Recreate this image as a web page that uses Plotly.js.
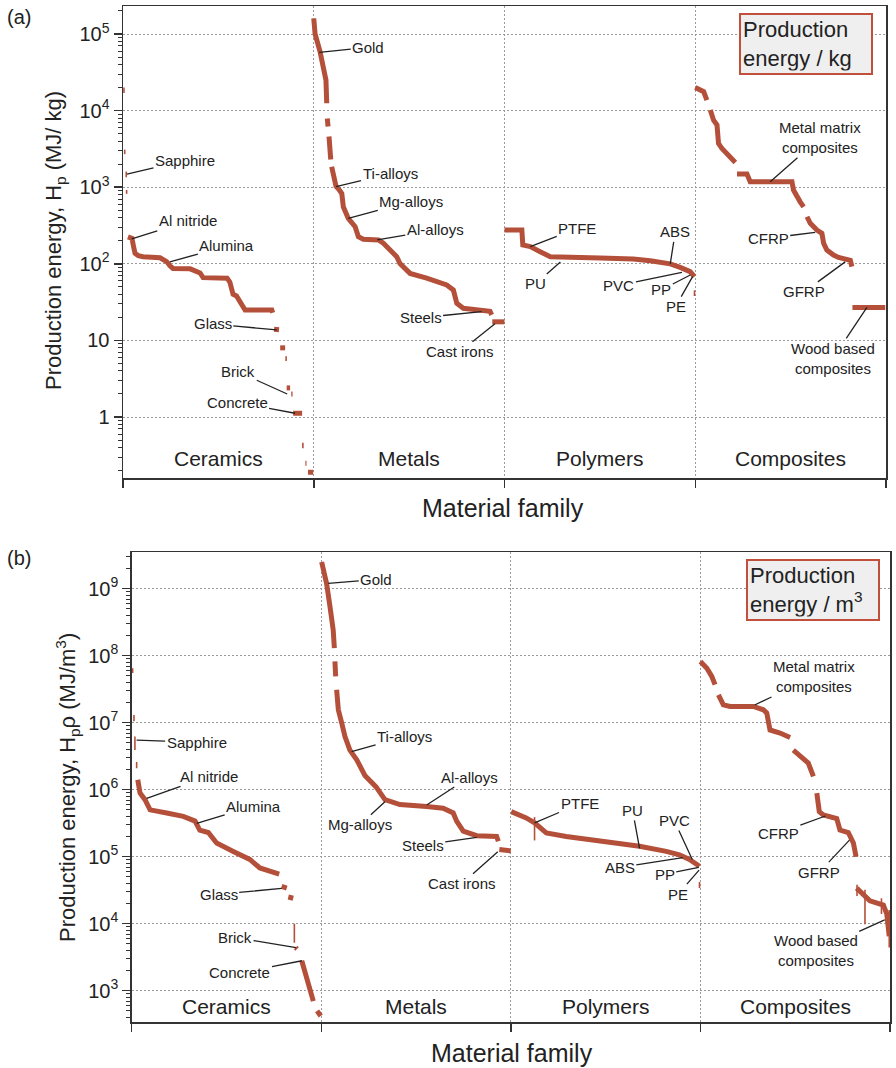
<!DOCTYPE html>
<html><head><meta charset="utf-8">
<script src="https://cdn.plot.ly/plotly-3.0.1.min.js"></script>
<style>html,body{margin:0;padding:0;background:#fff}#chart{width:896px;height:1068px}</style>
</head><body><div id="chart"></div>
<script>
// ---------------- DATA ----------------
const families = ['Ceramics', 'Metals', 'Polymers', 'Composites'];

// Panel (a): production energy per kg (MJ/kg); rank = position of material within its family (0-100)
const ceramicsRankA = [2.6, 4.7, 5.5, 6.3, 8, 10.5, 19.4, 21, 22.9, 24.5, 26.2, 35.2, 38, 40.4, 42, 54.6, 56, 57.7, 59.5, 61.4, 63, 64, 78, 78.5, null, 79.2, 81.8, null, 82.4, 85, null, 85.8, 87.6, null, 88.2, 88.9, null, 89.2, 93.9, null, 95.6, 96.2, null, 97, 99.7];
const ceramicsHpA = [225, 215, 170, 137, 128, 124, 120, 112, 107, 95, 87, 86, 80, 76, 66, 65, 58, 40, 38, 32, 28, 25, 25, 23, null, 14, 13.8, null, 8.0, 8.0, null, 2.4, 2.4, null, 2.0, 2.0, null, 1.12, 1.12, null, 0.25, 0.25, null, 0.19, 0.19];
const metalsRankA = [0, 0.7, 3.3, 5, 6.4, 6.8, null, 7.1, 7.5, null, 8.0, 8.9, null, 9.4, 10.6, 11.7, 13, 14.7, 15.5, 18.1, 21.7, 23.4, 26, 33.9, 36.5, 40, 43.5, 45.2, 50.5, 59.2, 69.7, 73.2, 75, 78.4, 87.2, 92.4, 93.3, null, 93.6, 100];
const metalsHpA = [160000, 100000, 59000, 37000, 25000, 12500, null, 7900, 6200, null, 4600, 2300, null, 1850, 1240, 1020, 950, 830, 555, 392, 305, 226, 209, 205, 186, 151, 124, 101, 75, 65, 53, 45.5, 30.5, 26.3, 25.3, 24, 21.6, null, 17.5, 17.5];
const polymersRankA = [0, 9.1, 9.6, 13.5, 18.7, 24, 50.2, 67.5, 76.4, 86.9, 92.1, 97.3, 99.6];
const polymersHpA = [276, 276, 176, 168, 144, 124, 119, 116, 110, 100, 90, 79, 68];
const compositesRankA = [0, 3.5, 4.4, 6.1, null, 7.9, 9.6, 11.4, 12.2, 14, 16.6, 20.1, 21, null, 21.9, 27.1, 28.8, 50.7, 51.5, 53.3, 55, 56.8, null, 58.6, 60.3, 63.8, 66.4, 67.3, 69, 72.5, 75.1, 81.3, 82.1, null, 82.4, 99.6];
const compositesHpA = [20000, 18000, 17700, 13700, null, 10200, 7500, 6500, 3740, 3200, 2770, 2270, 2100, null, 1490, 1490, 1180, 1180, 920, 752, 645, 555, null, 412, 338, 276, 250, 186, 151, 130, 121, 111, 92, null, 27, 27];
// isolated narrow ranges (family index, rank, low, high)
const tickFamilyA = [0, 0, 0, 0, 0, 0, 2];
const tickRankA = [0.5, 0.9, 1.7, 1.9, 85.5, 94.3, 99.6];
const tickLoA = [17000, 2700, 1350, 820, 5.4, 0.39, 38];
const tickHiA = [20000, 3100, 1600, 920, 6.2, 0.46, 45];

// Panel (b): production energy per m3 (MJ/m3)
const ceramicsRankB = [3.2, 4.4, 7, 9.7, 18.5, 27.2, 33.4, 35.9, 40.4, 44.8, 53.6, 62.3, 67.6, 77.8, null, 79.1, 81.8, null, 82.6, 85.2, null, 86.5, 87.2, null, 89.7, 90.5, 92.3, 94, 95.8, null, 97.8, 99.7];
const ceramicsHpB = [1.41e6, 8.9e5, 7.1e5, 5.0e5, 4.5e5, 4.0e5, 3.4e5, 2.5e5, 2.3e5, 1.6e5, 1.2e5, 9.1e4, 6.8e4, 5.5e4, null, 3.6e4, 3.4e4, null, 2.5e4, 2.4e4, null, 4.4e3, 4.2e3, null, 2.8e3, 2.3e3, 1.65e3, 1.1e3, 700, null, 500, 420];
const metalsRankB = [0.2, 2.8, 4.6, 6.3, 6.9, null, 7.2, 7.6, null, 8.1, 9, 10.8, 12.5, 15.1, 18.7, 23, 28.9, 33.6, 41.5, 55.6, 64.3, 69.6, 71.4, 74.9, 82, 92.5, 93.4, null, 93.9, 100];
const metalsHpB = [2.5e9, 1.2e9, 5.4e8, 2.4e8, 1.3e8, null, 8.2e7, 4.9e7, null, 3.1e7, 1.56e7, 9.9e6, 6.2e6, 3.9e6, 2.8e6, 1.63e6, 1.1e6, 7.1e5, 6.0e5, 5.6e5, 5.3e5, 4.5e5, 3.4e5, 2.4e5, 2.06e5, 2.0e5, 1.7e5, null, 1.28e5, 1.22e5];
const polymersRankB = [0.2, 8.1, 12.5, 18.7, 29.2, 46.8, 57.3, 67.9, 82, 88.9, 94.2, 99.5];
const polymersHpB = [4.7e5, 3.8e5, 3.2e5, 2.26e5, 2.0e5, 1.75e5, 1.6e5, 1.43e5, 1.2e5, 1.07e5, 9.1e4, 7.2e4];
const compositesRankB = [0, 3.4, 6, 7.7, null, 9.5, 12.1, 15.7, 27.9, 33.2, 35, 36.7, 42, 47.3, null, 49, 54.3, 56.9, 59.6, null, 61.4, 62.7, 64.8, 71.9, 73.6, 78, 80.7, 82.1, null, 82.4, 85.9, 89.4, 96.5, 98.3, 99.6];
const compositesHpB = [8.2e7, 6.5e7, 4.9e7, 3.7e7, null, 2.6e7, 1.85e7, 1.75e7, 1.75e7, 1.56e7, 1.4e7, 7.8e6, 7.0e6, 6.0e6, null, 3.9e6, 3.0e6, 2.5e6, 1.58e6, null, 8.9e5, 4.7e5, 4.2e5, 3.7e5, 2.5e5, 2.3e5, 1.6e5, 1.0e5, null, 3.4e4, 2.8e4, 2.2e4, 1.9e4, 1.4e4, 6.5e3];
const tickFamilyB = [0, 0, 0, 0, 0, 2, 2, 3, 3, 3, 3];
const tickRankB = [0.5, 1.2, 1.7, 2.6, 85.8, 12.5, 99.5, 82.6, 86.8, 95.5, 99.6];
const tickLoB = [5.5e7, 1.05e7, 3.9e6, 2.1e6, 5.2e3, 1.75e5, 3.4e4, 2.6e4, 9.8e3, 1.4e4, 4.4e3];
const tickHiB = [6.5e7, 1.3e7, 6.2e6, 2.6e6, 1.0e4, 3.9e5, 4.2e4, 3.8e4, 3.2e4, 2.4e4, 1.6e4];

// Labelled materials
const labelNamesA = ['Sapphire', 'Al nitride', 'Alumina', 'Glass', 'Brick', 'Concrete', 'Gold', 'Ti-alloys', 'Mg-alloys', 'Al-alloys', 'Steels', 'Cast irons', 'PTFE', 'PU', 'ABS', 'PVC', 'PP', 'PE', 'Metal matrix<br>composites', 'CFRP', 'GFRP', 'Wood based<br>composites'];
const labelFamilyA = [0, 0, 0, 0, 0, 0, 1, 1, 1, 1, 1, 1, 2, 2, 2, 2, 2, 2, 3, 3, 3, 3];
const labelRankA = [2.1, 4.6, 24.6, 80.6, 86.1, 90.2, 2.9, 11.7, 18.1, 33.3, 88, 95, 13.5, 29.3, 86.9, 93, 97.4, 98.6, 39.3, 62.9, 78.6, 90];
const labelHpA = [1480, 211, 106, 13.7, 2.0, 1.12, 57700, 1017, 392, 205, 23.7, 16.5, 168, 106, 100, 77.5, 71.5, 68, 1180, 258, 106, 27];

const labelNamesB = ['Sapphire', 'Al nitride', 'Alumina', 'Glass', 'Brick', 'Concrete', 'Gold', 'Ti-alloys', 'Al-alloys', 'Mg-alloys', 'Steels', 'Cast irons', 'PTFE', 'PU', 'PVC', 'ABS', 'PP', 'PE', 'Metal matrix<br>composites', 'CFRP', 'GFRP', 'Wood based<br>composites'];
const labelFamilyB = [0, 0, 0, 0, 0, 0, 1, 1, 1, 1, 1, 1, 2, 2, 2, 2, 2, 2, 3, 3, 3, 3];
const labelRankB = [2.6, 7.9, 34.3, 79.1, 86.7, 89.8, 3.7, 16, 55.6, 33.6, 82, 93.1, 12.5, 67.9, 95.7, 90.7, 99.1, 99.3, 28.6, 65.9, 78.6, 97.2];
const labelHpB = [5.5e6, 7.45e5, 3.15e5, 3.37e4, 4.4e3, 2.8e3, 1.2e9, 3.7e6, 5.9e5, 6.6e5, 1.95e5, 1.19e5, 3.2e5, 1.33e5, 9.1e4, 9.7e4, 6.95e4, 6.3e4, 1.84e7, 4.05e5, 1.77e5, 1.14e4];

const tickTextA = ['1', '10', '10<sup>2</sup>', '10<sup>3</sup>', '10<sup>4</sup>', '10<sup>5</sup>'];
const tickValsA = [1, 10, 100, 1000, 10000, 100000];
const tickTextB = ['10<sup>3</sup>', '10<sup>4</sup>', '10<sup>5</sup>', '10<sup>6</sup>', '10<sup>7</sup>', '10<sup>8</sup>', '10<sup>9</sup>'];
const tickValsB = [1e3, 1e4, 1e5, 1e6, 1e7, 1e8, 1e9];

// ---------------- LAYOUT / STYLE ----------------
// label text offsets (pixels from the pointed material to the label centre)
const labelOffsetA = [[58,-14],[56,-18],[57,-16],[-64,-6],[-49,-22],[-58,-11],[49,-5],[54,-13],[63,-17],[58,-10],[-61,6],[-35,28],[47,-18],[-25,22],[5,-32],[-63,13],[-29,15],[-17,30],[50,-44],[-47,6],[-41,30],[-34,51]];
const labelOffsetB = [[60,2],[62,-22],[57,-17],[-63,6],[-61,-10],[-62,12],[48,-4],[53,-15],[43,-28],[-25,23],[-54,8],[-36,32],[45,-19],[-7,-38],[-18,-39],[-63,10],[-34,7],[-21,24],[59,-28],[-47,17],[-30,32],[-69,31]];

const W = 896, H = 1068;
const C = '#b4503a';
const FONT = 'Liberation Sans, Arial, Helvetica, sans-serif';
const TXT = '#222';
const px = p => p / W;
const py = p => 1 - p / H;

const traces = [];
function addFamily(xa, ya, fam, ranks, vals) {
  traces.push({type: 'scatter', mode: 'lines', xaxis: xa, yaxis: ya,
    x: ranks.map(r => r === null ? null : fam * 100 + r), y: vals,
    line: {color: C, width: 5}, hoverinfo: 'skip', showlegend: false});
}
function addTicks(xa, ya, fams, ranks, lo, hi) {
  const x = [], y = [];
  for (let i = 0; i < ranks.length; i++) {
    const xv = fams[i] * 100 + ranks[i];
    x.push(xv, xv, null); y.push(lo[i], hi[i], null);
  }
  traces.push({type: 'scatter', mode: 'lines', xaxis: xa, yaxis: ya, x, y,
    line: {color: C, width: 1.6}, hoverinfo: 'skip', showlegend: false});
}
addFamily('x', 'y', 0, ceramicsRankA, ceramicsHpA);
addFamily('x', 'y', 1, metalsRankA, metalsHpA);
addFamily('x', 'y', 2, polymersRankA, polymersHpA);
addFamily('x', 'y', 3, compositesRankA, compositesHpA);
addTicks('x', 'y', tickFamilyA, tickRankA, tickLoA, tickHiA);
addFamily('x2', 'y2', 0, ceramicsRankB, ceramicsHpB);
addFamily('x2', 'y2', 1, metalsRankB, metalsHpB);
addFamily('x2', 'y2', 2, polymersRankB, polymersHpB);
addFamily('x2', 'y2', 3, compositesRankB, compositesHpB);
addTicks('x2', 'y2', tickFamilyB, tickRankB, tickLoB, tickHiB);

function minorVals(d0, d1) {
  const v = [];
  for (let d = d0; d <= d1; d++) for (let m = 2; m <= 9; m++) v.push(m * Math.pow(10, d));
  return v;
}

const gridStyle = {showgrid: true, gridcolor: '#9a9a9a', gridwidth: 1, griddash: '2px,2px'};
const lineStyle = {showline: true, mirror: true, linecolor: '#333', linewidth: 1.5, zeroline: false};

function xAxis(domain, anchor) {
  return Object.assign({domain, anchor, range: [0, 400], tickmode: 'array',
    tickvals: [0, 100, 200, 300, 400],
    ticks: 'outside', ticklen: 8, tickwidth: 1.5, tickcolor: '#333', showticklabels: false,
    fixedrange: true}, gridStyle, lineStyle);
}
function yAxis(domain, anchor, range, vals, text, minor) {
  return Object.assign({domain, anchor, type: 'log', range, tickmode: 'array',
    tickvals: vals, ticktext: text, ticks: 'outside', ticklen: 8, tickwidth: 1.5, tickcolor: '#333',
    tickfont: {family: FONT, size: 20, color: TXT},
    minor: {tickmode: 'array', tickvals: minor, ticks: 'outside', ticklen: 4, tickwidth: 1, tickcolor: '#333', showgrid: false},
    fixedrange: true}, gridStyle, lineStyle);
}

const annotations = [];
function addLabels(xr, yr, names, fams, ranks, vals, offs) {
  for (let i = 0; i < names.length; i++) {
    annotations.push({xref: xr, yref: yr, x: fams[i] * 100 + ranks[i], y: Math.log10(vals[i]),
      text: names[i], showarrow: true, arrowhead: 0, arrowwidth: 1.3, arrowcolor: '#222',
      ax: offs[i][0], ay: offs[i][1], axref: 'pixel', ayref: 'pixel', standoff: 0,
      font: {family: FONT, size: 15, color: TXT}, align: 'center'});
  }
}
addLabels('x', 'y', labelNamesA, labelFamilyA, labelRankA, labelHpA, labelOffsetA);
addLabels('x2', 'y2', labelNamesB, labelFamilyB, labelRankB, labelHpB, labelOffsetB);

// family names inside plots
families.forEach((f, i) => {
  annotations.push({xref: 'x', yref: 'paper', x: i * 100 + 50, y: py(458), text: f, showarrow: false,
    font: {family: FONT, size: 21, color: TXT}, xanchor: 'center', yanchor: 'middle'});
  annotations.push({xref: 'x2', yref: 'paper', x: i * 100 + 50, y: py(1006), text: f, showarrow: false,
    font: {family: FONT, size: 21, color: TXT}, xanchor: 'center', yanchor: 'middle'});
});

// axis titles and panel letters
annotations.push(
  {xref: 'paper', yref: 'paper', x: px(55), y: py(241), textangle: -90, showarrow: false,
   text: 'Production energy, H<sub>p</sub> (MJ/ kg)', font: {family: FONT, size: 22, color: TXT}, xanchor: 'center', yanchor: 'middle'},
  {xref: 'paper', yref: 'paper', x: px(67), y: py(788), textangle: -90, showarrow: false,
   text: 'Production energy, H<sub>p</sub>ρ (MJ/m<sup>3</sup>)', font: {family: FONT, size: 22, color: TXT}, xanchor: 'center', yanchor: 'middle'},
  {xref: 'paper', yref: 'paper', x: px(503), y: py(508), showarrow: false, text: 'Material family',
   font: {family: FONT, size: 25, color: TXT}, xanchor: 'center', yanchor: 'middle'},
  {xref: 'paper', yref: 'paper', x: px(512), y: py(1053), showarrow: false, text: 'Material family',
   font: {family: FONT, size: 25, color: TXT}, xanchor: 'center', yanchor: 'middle'},
  {xref: 'paper', yref: 'paper', x: px(19), y: py(17), showarrow: false, text: '(a)',
   font: {family: FONT, size: 20, color: TXT}, xanchor: 'center', yanchor: 'middle'},
  {xref: 'paper', yref: 'paper', x: px(19), y: py(558), showarrow: false, text: '(b)',
   font: {family: FONT, size: 20, color: TXT}, xanchor: 'center', yanchor: 'middle'},
  {xref: 'paper', yref: 'paper', x: px(739), y: py(13), showarrow: false, text: 'Production<br>energy / kg',
   font: {family: FONT, size: 22, color: TXT}, xanchor: 'left', yanchor: 'top', align: 'left',
   bgcolor: '#efefef', bordercolor: '#c0503c', borderwidth: 2, borderpad: 2, width: 126},
  {xref: 'paper', yref: 'paper', x: px(746), y: py(559), showarrow: false, text: 'Production<br>energy / m<sup>3</sup>',
   font: {family: FONT, size: 22, color: TXT}, xanchor: 'left', yanchor: 'top', align: 'left',
   bgcolor: '#efefef', bordercolor: '#c0503c', borderwidth: 2, borderpad: 2, width: 126}
);

const layout = {
  width: W, height: H, margin: {l: 0, r: 0, t: 0, b: 0},
  paper_bgcolor: '#fff', plot_bgcolor: '#fff', showlegend: false,
  font: {family: FONT, color: TXT},
  xaxis: xAxis([px(123), px(886)], 'y'),
  yaxis: yAxis([py(478), py(6)], 'x', [-0.796, 5.366], tickValsA, tickTextA, minorVals(-1, 5)),
  xaxis2: xAxis([px(131.7), px(890)], 'y2'),
  yaxis2: yAxis([py(1022), py(552)], 'x2', [2.533, 9.548], tickValsB, tickTextB, minorVals(2, 9)),
  annotations
};

Plotly.newPlot('chart', traces, layout, {staticPlot: true, displayModeBar: false});
</script>
</body></html>
